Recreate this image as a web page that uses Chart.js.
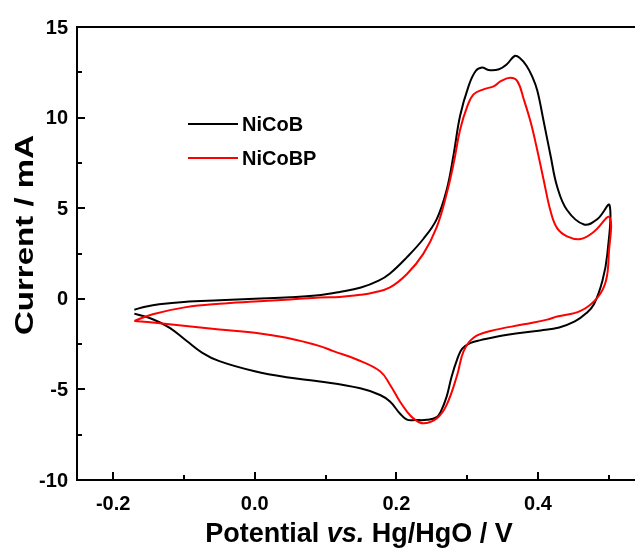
<!DOCTYPE html>
<html>
<head>
<meta charset="utf-8">
<script src="https://cdn.jsdelivr.net/npm/chart.js@4/dist/chart.umd.min.js"></script>
<style>
  html, body { margin: 0; padding: 0; background: #fff; }
  #wrap { width: 635px; height: 550px; }
</style>
</head>
<body>
<div id="wrap"><canvas id="cv" width="635" height="550"></canvas></div>
<script>
// Серии (потенциал, В / ток, мА)
const seriesNames = ['NiCoB', 'NiCoBP']
const seriesColors = ['#000000', '#ff0000']

const nicobPotential = [
  -0.170, -0.153, -0.135, -0.100, -0.050, 0.000, 0.050, 0.090, 0.120, 0.150,
  0.175, 0.191, 0.215, 0.238, 0.257, 0.271, 0.281, 0.290, 0.302, 0.312,
  0.321, 0.330, 0.345, 0.356, 0.367, 0.374, 0.384, 0.392, 0.399, 0.408,
  0.418, 0.427, 0.441, 0.465, 0.484, 0.501,
  0.498, 0.491, 0.479, 0.468, 0.452, 0.430, 0.404, 0.357, 0.319, 0.305,
  0.293, 0.286, 0.278, 0.271, 0.263, 0.257, 0.243, 0.227, 0.215, 0.205,
  0.191, 0.177, 0.149, 0.092, 0.045, 0.000, -0.050, -0.074, -0.096, -0.120,
  -0.144, -0.170
]
const nicobCurrent = [
  -0.60, -0.42, -0.30, -0.17, -0.08, 0.00, 0.08, 0.20, 0.38, 0.62,
  1.00, 1.40, 2.30, 3.30, 4.40, 6.00, 8.00, 10.10, 11.74, 12.57,
  12.76, 12.63, 12.67, 12.94, 13.40, 13.30, 12.85, 12.25, 11.50, 9.80,
  7.85, 6.20, 4.90, 4.10, 4.40, 5.17,
  2.50, 1.00, -0.30, -0.80, -1.25, -1.58, -1.75, -1.98, -2.28, -2.43,
  -2.75, -3.33, -4.30, -5.40, -6.20, -6.53, -6.68, -6.69, -6.67, -6.33,
  -5.67, -5.31, -4.94, -4.56, -4.33, -4.00, -3.44, -2.98, -2.33, -1.60,
  -1.13, -0.82
]

const nicobpPotential = [
  -0.170, -0.144, -0.097, -0.050, 0.000, 0.050, 0.092, 0.120, 0.149, 0.168,
  0.191, 0.215, 0.238, 0.257, 0.271, 0.281, 0.290, 0.300, 0.309, 0.323,
  0.338, 0.347, 0.361, 0.371, 0.380, 0.390, 0.399, 0.408, 0.418, 0.427,
  0.441, 0.460, 0.479, 0.501,
  0.500, 0.496, 0.484, 0.460, 0.427, 0.413, 0.380, 0.333, 0.309, 0.295,
  0.286, 0.271, 0.257, 0.238, 0.224, 0.215, 0.205, 0.191, 0.177, 0.144,
  0.111, 0.092, 0.045, 0.000, -0.050, -0.097, -0.144, -0.170
]
const nicobpCurrent = [
  -1.22, -0.85, -0.46, -0.27, -0.15, -0.04, 0.07, 0.10, 0.22, 0.35,
  0.63, 1.37, 2.48, 3.96, 5.80, 7.50, 9.33, 10.60, 11.28, 11.56,
  11.74, 12.00, 12.20, 12.00, 11.00, 9.70, 8.20, 6.56, 4.80, 3.90,
  3.45, 3.30, 3.70, 4.50,
  2.48, 1.00, 0.07, -0.67, -0.98, -1.15, -1.41, -1.78, -2.15, -2.89,
  -4.19, -5.85, -6.60, -6.87, -6.60, -6.22, -5.67, -4.74, -4.00, -3.35,
  -2.89, -2.61, -2.15, -1.87, -1.69, -1.50, -1.31, -1.22
]

// Подписи осей
const xTickValues = [-0.2, 0.0, 0.2, 0.4]
const xTickLabels = ['-0.2', '0.0', '0.2', '0.4']
const xMinorTicks = [-0.1, 0.1, 0.3, 0.5]
const yTickValues = [-10, -5, 0, 5, 10, 15]
const yTickLabels = ['-10', '-5', '0', '5', '10', '15']
const yMinorTicks = [-7.5, -2.5, 2.5, 7.5, 12.5]

const toPoints = (xs, ys) => xs.map((v, i) => ({ x: v, y: ys[i] }))

const FONT = '"Liberation Sans", Arial, sans-serif'

// Рамка, внутренние засечки, подписи и легенда
const cvAxesPlugin = {
  id: 'cvAxes',
  afterDraw(chart) {
    const { ctx, chartArea: a } = chart
    const xs = chart.scales.x
    const ys = chart.scales.y
    ctx.save()
    ctx.strokeStyle = '#000'
    ctx.lineWidth = 2
    ctx.lineCap = 'butt'

    // рамка
    ctx.strokeRect(a.left, a.top, a.right - a.left + 2, a.bottom - a.top)

    // засечки
    ctx.beginPath()
    xTickValues.forEach(v => {
      const px = Math.round(xs.getPixelForValue(v))
      ctx.moveTo(px, a.bottom); ctx.lineTo(px, a.bottom - 8)
    })
    xMinorTicks.forEach(v => {
      const px = Math.round(xs.getPixelForValue(v))
      ctx.moveTo(px, a.bottom); ctx.lineTo(px, a.bottom - 5)
    })
    yTickValues.forEach(v => {
      const py = Math.round(ys.getPixelForValue(v))
      ctx.moveTo(a.left, py); ctx.lineTo(a.left + 8, py)
    })
    yMinorTicks.forEach(v => {
      const py = Math.round(ys.getPixelForValue(v))
      ctx.moveTo(a.left, py); ctx.lineTo(a.left + 5, py)
    })
    ctx.stroke()

    // подписи засечек
    ctx.fillStyle = '#000'
    ctx.font = 'bold 20px ' + FONT
    ctx.textBaseline = 'middle'
    ctx.textAlign = 'center'
    xTickValues.forEach((v, i) => {
      ctx.fillText(xTickLabels[i], xs.getPixelForValue(v), a.bottom + 24)
    })
    ctx.textAlign = 'right'
    yTickValues.forEach((v, i) => {
      ctx.fillText(yTickLabels[i], a.left - 9, ys.getPixelForValue(v) + 1)
    })

    // подпись оси X: "vs." курсивом
    const parts = [
      ['Potential ', 'bold 27px ' + FONT],
      ['vs.', 'italic bold 27px ' + FONT],
      [' Hg/HgO / V', 'bold 27px ' + FONT]
    ]
    let total = 0
    parts.forEach(p => { ctx.font = p[1]; total += ctx.measureText(p[0]).width })
    let cx = 359 - total / 2
    ctx.textAlign = 'left'
    parts.forEach(p => {
      ctx.font = p[1]
      ctx.fillText(p[0], cx, 535)
      cx += ctx.measureText(p[0]).width
    })

    // подпись оси Y (в оригинале растянута по длине)
    ctx.save()
    ctx.translate(26, 235)
    ctx.rotate(-Math.PI / 2)
    ctx.textAlign = 'center'
    ctx.font = 'bold 25px ' + FONT
    const yTitle = 'Current / mA'
    const stretch = 200 / ctx.measureText(yTitle).width
    ctx.scale(stretch, 1)
    ctx.fillText(yTitle, 0, 0)
    ctx.restore()

    // легенда
    ctx.font = 'bold 20px ' + FONT
    ctx.textAlign = 'left'
    const rows = [124, 158]
    seriesNames.forEach((name, i) => {
      ctx.strokeStyle = seriesColors[i]
      ctx.lineWidth = 2
      ctx.beginPath()
      ctx.moveTo(188, rows[i]); ctx.lineTo(238, rows[i])
      ctx.stroke()
      ctx.fillText(name, 242, rows[i] + 1)
    })
    ctx.restore()
  }
}

const chart = new Chart(document.getElementById('cv'), {
  type: 'line',
  data: {
    datasets: [
      {
        label: seriesNames[0],
        data: toPoints(nicobPotential, nicobCurrent),
        borderColor: seriesColors[0],
        borderWidth: 2,
        pointRadius: 0,
        tension: 0.4,
        order: 1
      },
      {
        label: seriesNames[1],
        data: toPoints(nicobpPotential, nicobpCurrent),
        borderColor: seriesColors[1],
        borderWidth: 2,
        pointRadius: 0,
        tension: 0.4,
        order: 0
      }
    ]
  },
  options: {
    responsive: false,
    animation: false,
    devicePixelRatio: 1,
    layout: { padding: { left: 77, top: 27, right: 0, bottom: 70 } },
    plugins: {
      legend: { display: false },
      tooltip: { enabled: false }
    },
    scales: {
      x: { type: 'linear', min: -0.251, max: 0.537, display: false },
      y: { type: 'linear', min: -10, max: 15, display: false }
    }
  },
  plugins: [cvAxesPlugin]
})
</script>
</body>
</html>
